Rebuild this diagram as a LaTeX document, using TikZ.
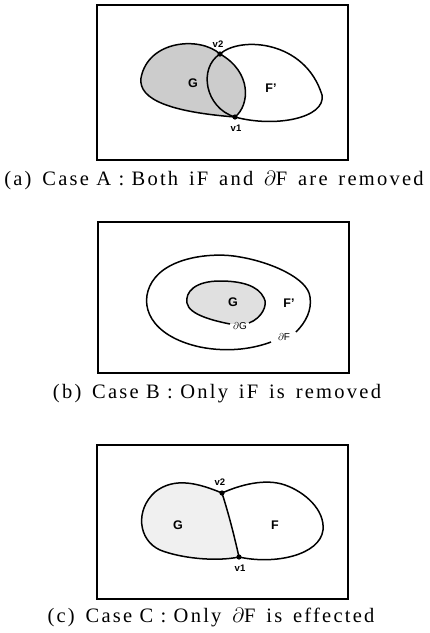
\documentclass[tikz,border=0pt]{standalone}
\usepackage{fontspec}
\setmainfont{Liberation Serif}
\setsansfont{Liberation Sans}
\newfontfamily\capfont[LetterSpace=11]{Liberation Serif}
\usepackage{tikz}
\usetikzlibrary{positioning}
\definecolor{gshadeA}{gray}{0.80}
\definecolor{gshadeB}{gray}{0.88}
\definecolor{gshadeC}{gray}{0.94}

\tikzset{
	frame/.style={black, line width=1.3pt},
	curve/.style={black, line width=1.5pt},
	face/.style={font=\sffamily\bfseries\fontsize{12.5}{12.5}\selectfont},
	vert/.style={font=\sffamily\bfseries\fontsize{9.5}{9.5}\selectfont, inner sep=1pt},
	bnd/.style={font=\sffamily\fontsize{10}{10}\selectfont, inner sep=1pt},
	captext/.style={font=\capfont\fontsize{20.5}{20.5}\selectfont}
}

\begin{document}
\begin{tikzpicture}[x=1pt, y=-1pt]
	\useasboundingbox (0,0) rectangle (430,633);
	\def\dotr{2.6}

	% --- (a) Case A ---
	\draw[frame] (97,5) rectangle (348,160);
	\coordinate (av2) at (220,54);
	\coordinate (av1) at (235,117);

	\fill[gshadeA] (av2) .. controls (200,36) and (148,40) .. (141,78)
		.. controls (138,100) and (172,112) .. (av1)
		.. controls (250,105) and (252,72) .. (av2);
	\draw[curve] (av2) .. controls (200,36) and (148,40) .. (141,78)
		.. controls (138,100) and (172,112) .. (av1)
		.. controls (250,105) and (252,72) .. (av2);
	\draw[curve] (av2) .. controls (240,36) and (305,40) .. (322,95)
		.. controls (326,118) and (275,128) .. (av1)
		.. controls (205,108) and (198,68) .. (av2);
	\fill (av2) circle (\dotr);
	\fill (av1) circle (\dotr);

	\node[face] (aG) at (193,83) {G};
	\node[face] (aF) at (271,88) {F'};
	\node[vert] (av2lbl) at (218,44) {v2};
	\node[vert] (av1lbl) at (236,128) {v1};

	\node[captext] (capA) at (214,180) {(a)\, Case A : Both\, iF\, and\, $\partial$F\, are\, removed};

	% --- (b) Case B ---
	\draw[frame] (98,222) rectangle (349,373);

	\fill[gshadeB] (249,323) .. controls (262,318) and (268,305) .. (264,298)
		.. controls (258,285) and (240,281) .. (220,281)
		.. controls (195,281) and (185,292) .. (187,303)
		.. controls (189,315) and (215,321) .. (230,324);
	\draw[curve] (249,323) .. controls (262,318) and (268,305) .. (264,298)
		.. controls (258,285) and (240,281) .. (220,281)
		.. controls (195,281) and (185,292) .. (187,303)
		.. controls (189,315) and (215,321) .. (230,324);
	\draw[curve] (296,332) .. controls (306,322) and (312,310) .. (310,297)
		.. controls (308,278) and (270,262) .. (240,257)
		.. controls (215,252) and (168,256) .. (152,282)
		.. controls (138,305) and (150,336) .. (200,347)
		.. controls (230,353) and (255,348) .. (271,342);

	\node[face] (bG) at (233,302) {G};
	\node[face] (bF) at (289,303) {F'};
	\node[bnd] (bdG) at (240,326) {$\partial$G};
	\node[bnd] (bdF) at (284,337) {$\partial$F};

	\node[captext] (capB) at (217,394) {(b)\, Case B : Only\, iF\, is\, removed};

	% --- (c) Case C ---
	\draw[frame] (97,445) rectangle (348,599);
	\coordinate (cv2) at (222,493);
	\coordinate (cv1) at (239,557);

	\fill[gshadeC] (cv2) .. controls (200,484) and (175,476) .. (155,492)
		.. controls (135,510) and (138,540) .. (160,550)
		.. controls (180,558) and (215,562) .. (cv1)
		.. controls (234,535) and (229,515) .. (cv2);
	\draw[curve] (cv2) .. controls (200,484) and (175,476) .. (155,492)
		.. controls (135,510) and (138,540) .. (160,550)
		.. controls (180,558) and (215,562) .. (cv1);
	\draw[curve] (cv1) .. controls (234,535) and (229,515) .. (cv2);
	\draw[curve] (cv2) .. controls (240,485) and (265,478) .. (285,485)
		.. controls (305,492) and (325,510) .. (323,530)
		.. controls (320,555) and (275,565) .. (cv1);
	\fill (cv2) circle (\dotr);
	\fill (cv1) circle (\dotr);

	\node[face] (cG) at (178,525) {G};
	\node[face] (cF) at (275,525) {F};
	\node[vert] (cv2lbl) at (220,482) {v2};
	\node[vert] (cv1lbl) at (240,568) {v1};

	\node[captext] (capC) at (211,617) {(c)\, Case C : Only\, $\partial$F\, is\, effected};

\end{tikzpicture}
\end{document}
